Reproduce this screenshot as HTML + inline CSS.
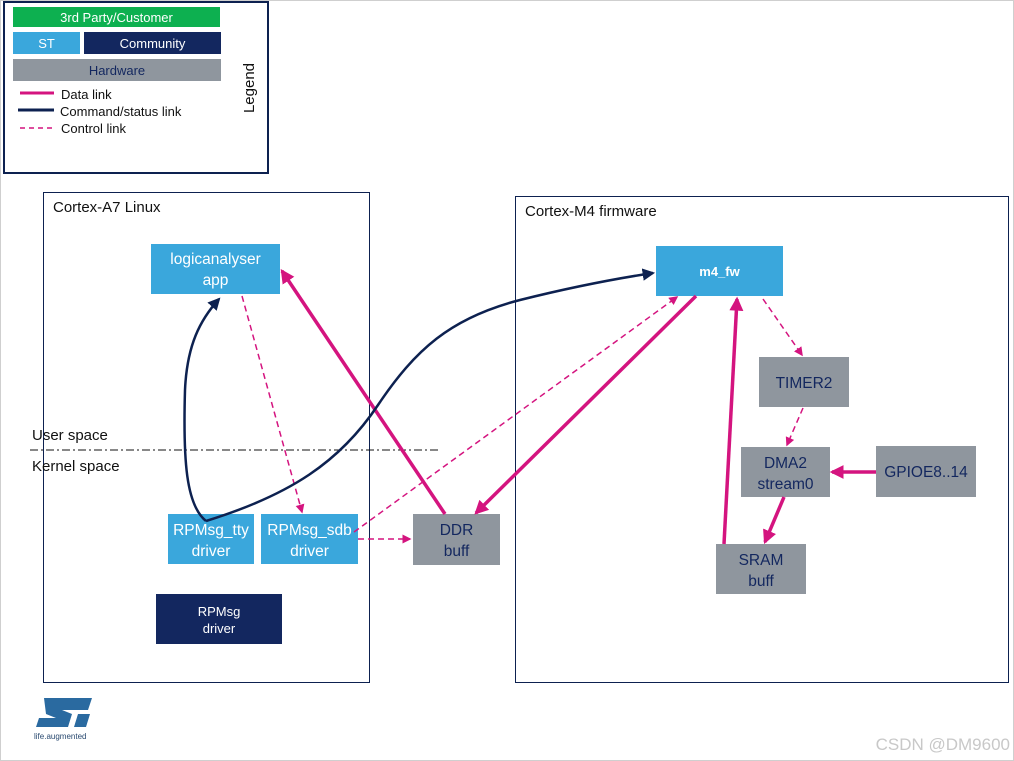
<!DOCTYPE html>
<html><head><meta charset="utf-8"><style>
html,body{margin:0;padding:0;background:#fff}
svg{display:block}
text{font-family:"Liberation Sans",Arial,sans-serif}
</style></head><body>
<svg width="1014" height="761" viewBox="0 0 1014 761" xmlns="http://www.w3.org/2000/svg">
<defs>
<marker id="mm" viewBox="0 0 6 6" markerWidth="4" markerHeight="4" refX="5" refY="3" orient="auto" markerUnits="strokeWidth"><path d="M0,0 L6,3 L0,6 z" fill="#d4147f"/></marker>
<marker id="md" viewBox="0 0 6 6" markerWidth="6" markerHeight="6" refX="5" refY="3" orient="auto" markerUnits="strokeWidth"><path d="M0,0 L6,3 L0,6 z" fill="#d4147f"/></marker>
<marker id="mn" viewBox="0 0 6 6" markerWidth="5" markerHeight="5" refX="5" refY="3" orient="auto" markerUnits="strokeWidth"><path d="M0,0 L6,3 L0,6 z" fill="#0d2150"/></marker>
</defs>
<rect x="0.5" y="0.5" width="1013" height="760" fill="#fff" stroke="#cfcfcf"/>
<!-- legend -->
<rect x="4" y="2" width="264" height="171" fill="#fff" stroke="#0d2150" stroke-width="2"/>
<rect x="13" y="7" width="207" height="20" fill="#0db050"/>
<text x="116.5" y="22" font-size="13" fill="#fff" text-anchor="middle">3rd Party/Customer</text>
<rect x="13" y="32" width="67" height="22" fill="#3aa7dc"/>
<text x="46.5" y="48" font-size="13" fill="#fff" text-anchor="middle">ST</text>
<rect x="84" y="32" width="137" height="22" fill="#13275f"/>
<text x="152.5" y="48" font-size="13" fill="#fff" text-anchor="middle">Community</text>
<rect x="13" y="59" width="208" height="22" fill="#8f969e"/>
<text x="117" y="75" font-size="13" fill="#13275f" text-anchor="middle">Hardware</text>
<line x1="20" y1="93" x2="54" y2="93" stroke="#d4147f" stroke-width="3"/>
<line x1="18" y1="110" x2="54" y2="110" stroke="#0d2150" stroke-width="3"/>
<line x1="20" y1="128" x2="54" y2="128" stroke="#d4147f" stroke-width="1.5" stroke-dasharray="5,4"/>
<text x="61" y="99" font-size="13" fill="#111">Data link</text>
<text x="60" y="116" font-size="13" fill="#111">Command/status link</text>
<text x="61" y="133" font-size="13" fill="#111">Control link</text>
<text transform="translate(254,88) rotate(-90)" font-size="15" fill="#111" text-anchor="middle">Legend</text>
<!-- panels -->
<rect x="43.5" y="192.5" width="326" height="490" fill="none" stroke="#0d2150" stroke-width="1"/>
<text x="53" y="212" font-size="15" fill="#111">Cortex-A7 Linux</text>
<rect x="515.5" y="196.5" width="493" height="486" fill="none" stroke="#0d2150" stroke-width="1"/>
<text x="525" y="216" font-size="15" fill="#111">Cortex-M4 firmware</text>
<line x1="30" y1="450" x2="440" y2="450" stroke="#111" stroke-width="1" stroke-dasharray="8,3,2,3"/>
<text x="32" y="440" font-size="15" fill="#111">User space</text>
<text x="32" y="471" font-size="15" fill="#111">Kernel space</text>
<!-- nodes -->
<rect x="151" y="244" width="129" height="50" fill="#3aa7dc"/>
<text x="215.5" y="264" font-size="15.5" fill="#fff" text-anchor="middle">logicanalyser</text>
<text x="215.5" y="285" font-size="15.5" fill="#fff" text-anchor="middle">app</text>
<rect x="168" y="514" width="86" height="50" fill="#3aa7dc"/>
<text x="211" y="535" font-size="15.5" fill="#fff" text-anchor="middle">RPMsg_tty</text>
<text x="211" y="556" font-size="15.5" fill="#fff" text-anchor="middle">driver</text>
<rect x="261" y="514" width="97" height="50" fill="#3aa7dc"/>
<text x="309.5" y="535" font-size="15.5" fill="#fff" text-anchor="middle">RPMsg_sdb</text>
<text x="309.5" y="556" font-size="15.5" fill="#fff" text-anchor="middle">driver</text>
<rect x="156" y="594" width="126" height="50" fill="#13275f"/>
<text x="219" y="616" font-size="13" fill="#fff" text-anchor="middle">RPMsg</text>
<text x="219" y="633" font-size="13" fill="#fff" text-anchor="middle">driver</text>
<rect x="413" y="514" width="87" height="51" fill="#8f969e"/>
<text x="456.5" y="535" font-size="15.5" fill="#13275f" text-anchor="middle">DDR</text>
<text x="456.5" y="556" font-size="15.5" fill="#13275f" text-anchor="middle">buff</text>
<rect x="656" y="246" width="127" height="50" fill="#3aa7dc"/>
<text x="719.5" y="276" font-size="13" font-weight="bold" fill="#fff" text-anchor="middle">m4_fw</text>
<rect x="759" y="357" width="90" height="50" fill="#8f969e"/>
<text x="804" y="388" font-size="15.5" fill="#13275f" text-anchor="middle">TIMER2</text>
<rect x="741" y="447" width="89" height="50" fill="#8f969e"/>
<text x="785.5" y="468" font-size="15.5" fill="#13275f" text-anchor="middle">DMA2</text>
<text x="785.5" y="489" font-size="15.5" fill="#13275f" text-anchor="middle">stream0</text>
<rect x="876" y="446" width="100" height="51" fill="#8f969e"/>
<text x="926" y="477" font-size="15.5" fill="#13275f" text-anchor="middle">GPIOE8..14</text>
<rect x="716" y="544" width="90" height="50" fill="#8f969e"/>
<text x="761" y="565" font-size="15.5" fill="#13275f" text-anchor="middle">SRAM</text>
<text x="761" y="586" font-size="15.5" fill="#13275f" text-anchor="middle">buff</text>
<!-- dashed control links -->
<g stroke="#d4147f" stroke-width="1.5" fill="none" stroke-dasharray="6,4">
<line x1="242" y1="296" x2="302" y2="512" marker-end="url(#md)"/>
<line x1="358" y1="539" x2="410" y2="539" marker-end="url(#md)"/>
<line x1="354" y1="532" x2="677" y2="297" marker-end="url(#md)"/>
<line x1="763" y1="299" x2="802" y2="355" marker-end="url(#md)"/>
<line x1="803" y1="408" x2="787" y2="445" marker-end="url(#md)"/>
</g>
<!-- data links -->
<g stroke="#d4147f" stroke-width="3.5" fill="none">
<line x1="445" y1="514" x2="282" y2="271" marker-end="url(#mm)"/>
<line x1="696" y1="296" x2="476" y2="513" marker-end="url(#mm)"/>
<line x1="724" y1="544" x2="737" y2="299" marker-end="url(#mm)"/>
<line x1="784" y1="497" x2="765" y2="542" marker-end="url(#mm)"/>
<line x1="876" y1="472" x2="832" y2="472" marker-end="url(#mm)"/>
</g>
<!-- command/status -->
<g stroke="#0d2150" stroke-width="2.5" fill="none">
<path d="M206,521 C186,505 183,460 185,390 C187,345 200,320 219,299" marker-end="url(#mn)"/>
<path d="M206,521 C290,495 340,462 378,405 C415,350 450,318 520,300 C580,285 620,278 653,273" marker-end="url(#mn)"/>
</g>
<!-- ST logo -->
<path d="M44,698 L92,698 L88,710 L62,710 L72,714 L68,727 L36,727 L39,718 L56,718 L46,714 Z" fill="#2a6aa0"/>
<path d="M78,714 L90,714 L86,727 L74,727 Z" fill="#2a6aa0"/>
<text x="34" y="739" font-size="8" fill="#2a4a70">life.augmented</text>
<text x="1010" y="750" font-size="17" fill="#c8c8c8" text-anchor="end">CSDN @DM9600</text>
</svg>
</body></html>
